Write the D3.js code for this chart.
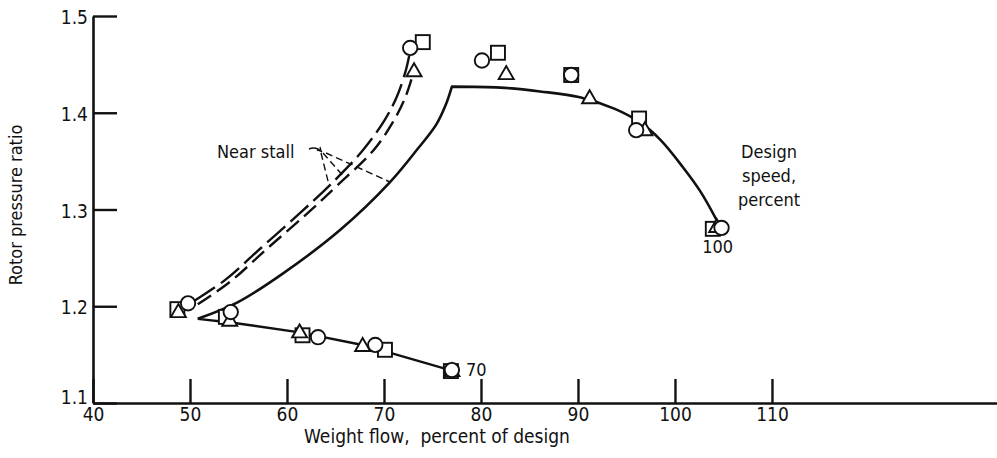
<!DOCTYPE html>
<html>
<head>
<meta charset="utf-8">
<script src="https://cdn.jsdelivr.net/npm/d3@7"></script>
<style>
  html, body { margin: 0; padding: 0; background: #fff; }
  svg { display: block; }
  text { font-family: 'DejaVu Sans Condensed', 'DejaVu Sans', sans-serif; font-stretch: condensed; fill: #111; }
</style>
</head>
<body>
<svg id="chart" width="997" height="458"></svg>
<script>
// Axis ticks
const xTicks = [40, 50, 60, 70, 80, 90, 100, 110];
const yTicks = [1.1, 1.2, 1.3, 1.4, 1.5];

// Speed labels
const speedLabels = ["70", "100"];

// Faired operating lines: [weight flow %, pressure ratio]
const speed100Rise = [[50.8, 1.187], [54.9, 1.204], [59.6, 1.234], [65.5, 1.279], [70.6, 1.328],
                      [73.5, 1.363], [75.4, 1.388], [76.4, 1.409], [77.0, 1.427]];
const speed100Top = [[77.0, 1.427], [82.0, 1.426], [86.1, 1.422], [90.2, 1.416], [93.8, 1.404],
                     [96.4, 1.390], [98.5, 1.372], [100.8, 1.344], [102.6, 1.319], [104.3, 1.289], [104.6, 1.283]];
const speed70Line = [[50.8, 1.187], [54.4, 1.183], [61.3, 1.173], [67.8, 1.160], [76.1, 1.136], [77.0, 1.134]];

// Near-stall lines
const stallOuter = [[50.5, 1.206], [53.6, 1.227], [57.4, 1.261], [61.3, 1.296], [64.4, 1.325],
                    [67.8, 1.361], [70.1, 1.393], [71.3, 1.416], [72.2, 1.442], [72.6, 1.459]];
const stallInner = [[50.8, 1.202], [54.1, 1.225], [58.0, 1.260], [62.1, 1.296], [65.2, 1.325],
                    [68.9, 1.361], [70.9, 1.390], [72.2, 1.416], [72.9, 1.437]];

// Measured points by symbol
const circlePts = [[49.8, 1.203], [54.2, 1.194], [63.2, 1.168], [69.1, 1.160], [77.0, 1.134],
                   [72.7, 1.467], [80.1, 1.454], [89.3, 1.439], [96.0, 1.382], [104.8, 1.281]];
const squarePts = [[48.7, 1.197], [53.7, 1.189], [61.6, 1.170], [70.1, 1.155], [76.9, 1.133],
                   [74.0, 1.473], [81.75, 1.462], [89.3, 1.439], [96.3, 1.394], [103.9, 1.280]];
const trianglePts = [[48.8, 1.195], [54.1, 1.186], [61.3, 1.174], [67.8, 1.160], [77.0, 1.134],
                     [73.1, 1.444], [82.6, 1.441], [91.2, 1.416], [96.9, 1.383], [104.3, 1.283]];

const svg = d3.select("#chart");
const plotLeft = 93, plotBottom = 403, plotTop = 16, plotRight = 997;

const x = d3.scaleLinear().domain([40, 133.2]).range([plotLeft, plotRight]);
const y = d3.scaleLinear().domain([1.1, 1.5]).range([plotBottom, plotTop]);

// Axes with inward ticks
const xAxis = d3.axisBottom(x).tickValues(xTicks).tickSizeInner(-24).tickSizeOuter(0).tickPadding(4)
  .tickFormat(d3.format("d"));
const yAxis = d3.axisLeft(y).tickValues(yTicks).tickSizeInner(-24).tickSizeOuter(0).tickPadding(5)
  .tickFormat(d3.format(".1f"));

const gx = svg.append("g").attr("transform", `translate(0,${plotBottom})`).call(xAxis);
const gy = svg.append("g").attr("transform", `translate(${plotLeft},0)`).call(yAxis);

[gx, gy].forEach(g => {
  g.select(".domain").attr("stroke", "#111").attr("stroke-width", 2.6);
  g.selectAll(".tick line").attr("stroke", "#111").attr("stroke-width", 2.4);
  g.selectAll(".tick text").attr("fill", "#111").attr("font-family", null).attr("font-size", 19);
});
// the lowest ratio label sits a little higher so it clears the 40 below it
gy.selectAll(".tick text").attr("dy", d => d === 1.1 ? "0.05em" : "0.4em");
gx.selectAll(".tick text").attr("y", 18).attr("dy", 0);

// Axis titles
svg.append("text")
  .attr("transform", `translate(22,205) rotate(-90)`)
  .attr("text-anchor", "middle").attr("font-size", 18)
  .text("Rotor pressure ratio");
svg.append("text")
  .attr("x", 437).attr("y", 443)
  .attr("text-anchor", "middle").attr("font-size", 19)
  .attr("xml:space", "preserve")
  .text("Weight flow,  percent of design");

const smooth = d3.line().x(d => x(d[0])).y(d => y(d[1])).curve(d3.curveCatmullRom.alpha(0.5));

// Solid speed lines
svg.append("path")
  .attr("d", smooth(speed100Rise) + smooth(speed100Top).replace(/^M/, "L"))
  .attr("fill", "none").attr("stroke", "#111").attr("stroke-width", 2.6).attr("stroke-linejoin", "round");
svg.append("path")
  .attr("d", d3.line().x(d => x(d[0])).y(d => y(d[1]))(speed70Line))
  .attr("fill", "none").attr("stroke", "#111").attr("stroke-width", 2.4);

// Near-stall dashed lines
svg.append("path").attr("d", smooth(stallOuter))
  .attr("fill", "none").attr("stroke", "#111").attr("stroke-width", 2.4).attr("stroke-dasharray", "24,7");
svg.append("path").attr("d", smooth(stallInner))
  .attr("fill", "none").attr("stroke", "#111").attr("stroke-width", 2.4).attr("stroke-dasharray", "16,7");

// Symbols
const sym = svg.append("g").attr("fill", "#fff").attr("stroke", "#111").attr("stroke-width", 1.9);
sym.selectAll("rect.sq").data(squarePts).join("rect").attr("class", "sq")
  .attr("x", d => x(d[0]) - 7).attr("y", d => y(d[1]) - 7).attr("width", 14).attr("height", 14);
sym.selectAll("path.tri").data(trianglePts).join("path").attr("class", "tri")
  .attr("transform", d => `translate(${x(d[0])},${y(d[1])})`)
  .attr("d", "M0,-7L7.5,6L-7.5,6Z");
sym.selectAll("circle").data(circlePts).join("circle")
  .attr("cx", d => x(d[0])).attr("cy", d => y(d[1])).attr("r", 7.2);

// Speed labels
svg.append("text").attr("x", x(77.0) + 14).attr("y", y(1.134) + 6)
  .attr("font-size", 18).text(speedLabels[0]);
svg.append("text").attr("x", x(104.4)).attr("y", y(1.281) + 25)
  .attr("text-anchor", "middle").attr("font-size", 18).text(speedLabels[1]);

// Design speed note
const note = svg.append("text").attr("text-anchor", "middle").attr("font-size", 18);
["Design", "speed,", "percent"].forEach((t, i) => {
  note.append("tspan").attr("x", 769).attr("y", 158 + i * 24).text(t);
});

// Near stall callout
svg.append("text").attr("x", 217).attr("y", 158).attr("font-size", 18).text("Near stall");
svg.append("path").attr("d", "M309,149 Q316,146 322,152")
  .attr("fill", "none").attr("stroke", "#111").attr("stroke-width", 1.5);
svg.append("path").attr("d", "M321,151 l-4,-1 M321,151 l-1,-4")
  .attr("fill", "none").attr("stroke", "#111").attr("stroke-width", 1.3);
const leaders = svg.append("g").attr("fill", "none").attr("stroke", "#111").attr("stroke-width", 1.4).attr("stroke-dasharray", "7,4");
leaders.append("path").attr("d", "M321,153 L329,185");
leaders.append("path").attr("d", "M323,153 L344,177");
leaders.append("path").attr("d", "M326,153 L390,182");
</script>
</body>
</html>
